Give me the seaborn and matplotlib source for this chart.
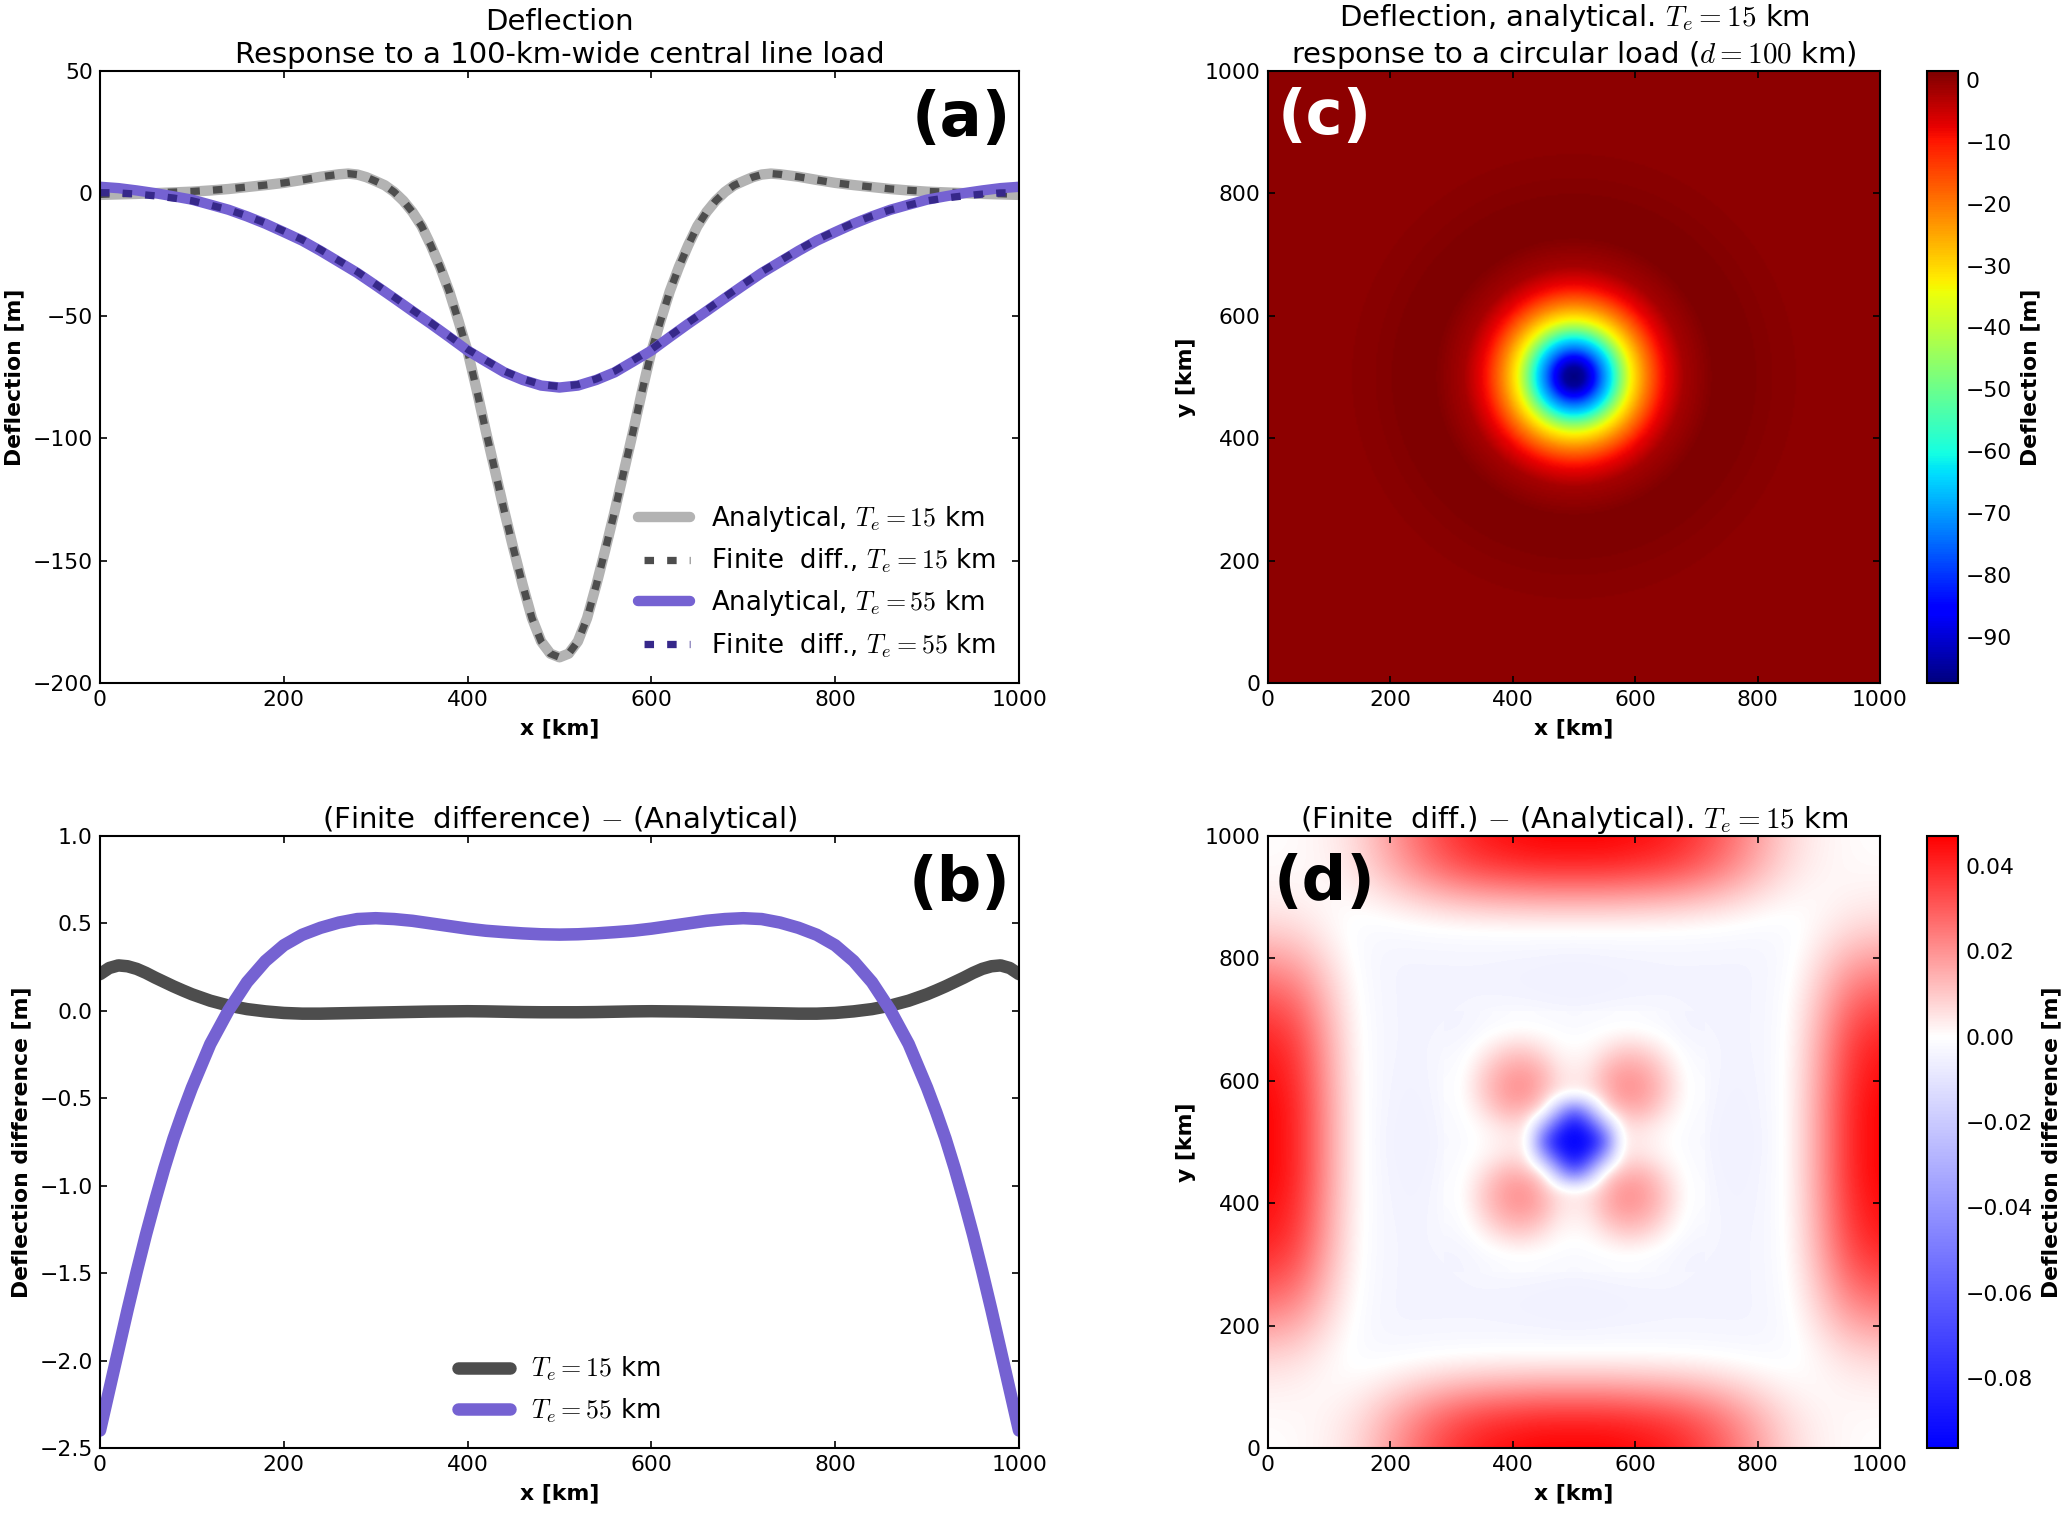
import numpy as np
import pandas as pd
import matplotlib
matplotlib.use("Agg")
import matplotlib.pyplot as plt
import seaborn as sns
from matplotlib.colors import TwoSlopeNorm

# ---------------- data ----------------
# panel a, Te = 15 km (finer sampling where the curve is steep)
x_15 = list(range(0, 261, 20)) + list(range(270, 731, 10)) + list(range(740, 1001, 20))
analytic_15 = [-0.6, -0.4, -0.2, 0.1, 0.4, 0.7, 1.2, 1.8, 2.6, 3.4, 4.3, 5.5, 6.8, 7.8,
               8.1, 7.7, 6.6, 5.0, 3.3, 0.6, -3.0, -7.6, -13.4, -21.2, -30.0, -40.0, -52.0,
               -64.5, -80.5, -97.4, -113.6, -129.9, -145.3, -160.0, -173.5, -183.0, -188.0,
               -189.5,
               -188.0, -183.0, -173.5, -160.0, -145.3, -129.9, -113.6, -97.4, -80.5, -64.5,
               -52.0, -40.0, -30.0, -21.2, -13.4, -7.6, -3.0, 0.6, 3.3, 5.0, 6.6, 7.7, 8.1,
               7.8, 6.8, 5.5, 4.3, 3.4, 2.6, 1.8, 1.2, 0.7, 0.4, 0.1, -0.2, -0.4, -0.6]
fd_15 = [-0.39, -0.14, 0.04, 0.29, 0.54, 0.8, 1.26, 1.83, 2.61, 3.4, 4.29, 5.48, 6.78, 7.79,
         8.09, 7.69, 6.59, 4.99, 3.29, 0.59, -3.01, -7.61, -13.4, -21.2, -30.0, -40.0, -52.0,
         -64.5, -80.5, -97.4, -113.6, -129.9, -145.3, -160.0, -173.5, -183.0, -188.0,
         -189.5,
         -188.0, -183.0, -173.5, -160.0, -145.3, -129.9, -113.6, -97.4, -80.5, -64.5,
         -52.0, -40.0, -30.0, -21.2, -13.4, -7.61, -3.01, 0.59, 3.29, 4.99, 6.59, 7.69, 8.09,
         7.79, 6.78, 5.48, 4.29, 3.4, 2.61, 1.83, 1.26, 0.8, 0.54, 0.29, 0.04, -0.14, -0.39]

# panel a, Te = 55 km
x_55 = list(range(0, 1001, 20))
analytic_55 = [2.7, 2.15, 1.2, 0.1, -1.2, -2.55, -4.6, -6.7, -9.4, -12.4, -15.8, -19.3, -23.5, -28.0,
               -32.5, -37.6, -42.8, -48.1, -53.3, -58.7, -64.2, -68.7, -73.1, -76.2, -78.5, -79.3,
               -78.5, -76.2, -73.1, -68.7, -64.2, -58.7, -53.3, -48.1, -42.8, -37.6, -32.5, -28.0,
               -23.5, -19.3, -15.8, -12.4, -9.4, -6.7, -4.6, -2.55, -1.2, 0.1, 1.2, 2.15, 2.7]
fd_55 = [0.3, 0.2, -0.3, -1.0, -1.9, -3.0, -4.8, -6.7, -9.2, -12.1, -15.4, -18.9, -23.0, -27.5,
         -32.0, -37.1, -42.3, -47.6, -52.8, -58.2, -63.7, -68.2, -72.6, -75.8, -78.1, -78.9,
         -78.1, -75.8, -72.6, -68.2, -63.7, -58.2, -52.8, -47.6, -42.3, -37.1, -32.0, -27.5,
         -23.0, -18.9, -15.4, -12.1, -9.2, -6.7, -4.8, -3.0, -1.9, -1.0, -0.3, 0.2, 0.3]

# panel b
x_b = list(range(0, 101, 10)) + list(range(120, 881, 20)) + list(range(900, 1001, 10))
diff_15 = [0.21, 0.245, 0.26, 0.255, 0.24, 0.217, 0.19, 0.165, 0.14, 0.117, 0.095,
           0.058, 0.03, 0.01, -0.003, -0.012, -0.016, -0.016, -0.014, -0.012, -0.010, -0.008,
           -0.006, -0.004, -0.003, -0.002, -0.003, -0.005, -0.007, -0.008, -0.008, -0.008,
           -0.007, -0.005, -0.003, -0.002, -0.003, -0.004, -0.006, -0.008, -0.010, -0.012,
           -0.014, -0.016, -0.016, -0.012, -0.003, 0.01, 0.03, 0.058,
           0.095, 0.117, 0.14, 0.165, 0.19, 0.217, 0.24, 0.255, 0.26, 0.245, 0.21]
diff_55 = [-2.40, -2.17, -1.94, -1.71, -1.49, -1.28, -1.085, -0.90, -0.73, -0.58, -0.44,
           -0.19, 0.004, 0.164, 0.285, 0.375, 0.435, 0.475, 0.505, 0.525, 0.53, 0.525, 0.515,
           0.50, 0.485, 0.47, 0.458, 0.45, 0.443, 0.438, 0.436, 0.438, 0.443, 0.45, 0.458,
           0.47, 0.485, 0.50, 0.515, 0.525, 0.53, 0.525, 0.505, 0.475, 0.435, 0.375, 0.285,
           0.164, 0.004, -0.19,
           -0.44, -0.58, -0.73, -0.90, -1.085, -1.28, -1.49, -1.71, -1.94, -2.17, -2.40]

# radial profile of the 2-D analytical deflection (panel c), km -> m
radial_r = [0, 15, 30, 45, 62, 76, 92, 117, 144, 180, 228, 260, 300, 340, 400, 500, 750]
radial_v = [-97.4, -95.0, -86.5, -74.0, -62.0, -48.0, -34.0, -21.3, -9.5, -2.0, 1.2, 1.4, 1.0,
            0.4, 0.0, -0.1, 0.0]
load_center = (500, 500)

# panel d: upper-left quadrant (rows y=1000..500, cols x=0..500, 50 km step), in mm
diff2d_quadrant_mm = [
    [0, 0.9, 2.8, 8, 17.9, 28.2, 36.7, 42.3, 45.1, 47, 47],
    [0.9, 1.1, 2.3, 6.4, 14.7, 23.5, 30.7, 35.5, 37.9, 39.5, 39.5],
    [2.8, 2.3, 0.7, 1.9, 5.6, 9.8, 13.2, 15.4, 16.5, 17.3, 17.3],
    [8, 6.4, 1.9, -2.0, -1.9, -1.3, -0.8, -0.5, -0.3, -0.2, -0.2],
    [17.9, 14.7, 5.7, -1.9, -4, -4, -4, -4, -4.2, -4.5, -5],
    [28.2, 23.5, 9.8, -1.3, -4, -4, -4, -4, -4.8, -5.5, -6],
    [36.7, 30.7, 13.2, -0.8, -4, -4, -4, -3, -1.5, -1.8, -2.5],
    [42.3, 35.5, 15.4, -0.5, -4, -4, -3, 2, 9, 5, 0.8],
    [45.1, 37.9, 16.5, -0.3, -4.2, -4.8, -1.5, 9, 19.5, 14, 4],
    [47, 39.5, 17.3, -0.2, -4.5, -5.5, -1.8, 5, 14, 4, -62],
    [47, 39.5, 17.3, -0.2, -5, -6, -2.5, 0.8, 4, -62, -96],
]
# panel d, finer central patch: upper-left quadrant (rows y=700..500, cols x=300..500, 25 km step), mm
diff2d_centre_mm = [
    [-4, -3.8, -3, -2, -1.5, -1.5, -1.8, -2.2, -2.5],
    [-3.8, -3.5, -1, 0.3, 1.5, 1.5, 0.5, -0.5, -1.2],
    [-3, -1, 2, 6, 9, 8.5, 5, 1.5, 0.8],
    [-2, 0.3, 6, 12, 15, 15, 11, 4.2, 2.8],
    [-1.5, 1.5, 9, 15, 19.5, 19, 14, 6.5, 4],
    [-1.5, 1.5, 8.5, 15, 19, 18.5, 11, 3, 1],
    [-1.8, 0.5, 5, 11, 14, 11, 4, -30, -62],
    [-2.2, -0.5, 1.5, 4.2, 6.5, 3, -30, -72, -95],
    [-2.5, -1.2, 0.8, 2.8, 4, 1, -62, -95, -96],
]

c_vmin, c_vmax = -97.4, 1.4
d_vmin, d_vmax = -0.0964, 0.047
c_ticks = [0, -10, -20, -30, -40, -50, -60, -70, -80, -90]
d_ticks = [0.04, 0.02, 0.0, -0.02, -0.04, -0.06, -0.08]

# ---------------- style ----------------
sns.set_theme(style="white", rc={
    "xtick.direction": "in", "ytick.direction": "in",
    "xtick.top": True, "ytick.right": True,
    "xtick.bottom": True, "ytick.left": True,
    "xtick.major.size": 3.5, "ytick.major.size": 3.5,
    "xtick.major.width": 0.8, "ytick.major.width": 0.8,
    "axes.edgecolor": "black", "axes.linewidth": 1.0,
    "xtick.color": "black", "ytick.color": "black",
    "text.color": "black", "axes.labelcolor": "black",
    "axes.grid": False,
})
plt.rcParams["font.family"] = ["DejaVu Sans"]
plt.rcParams["mathtext.fontset"] = "cm"

TICK = 10.5
LAB = 10.5
TIT = 14
LEG = 12.5

C_LGRAY = "#b3b3b3"
C_DGRAY = "#4d4d4d"
C_PURP = "#7562d2"
C_DPURP = "#36288a"

W, H = 2067, 1519
fig = plt.figure(figsize=(W / 150, H / 150), dpi=150)
fig.patch.set_facecolor("white")


def rect(l, t, w, h):
    return [l / W, 1 - (t + h) / H, w / W, h / H]


ax_a = fig.add_axes(rect(100, 71, 919, 612))
ax_b = fig.add_axes(rect(100, 836, 919, 612))
ax_c = fig.add_axes(rect(1268, 71, 612, 612))
cax_c = fig.add_axes(rect(1927, 71, 31, 612))
ax_d = fig.add_axes(rect(1268, 836, 612, 612))
cax_d = fig.add_axes(rect(1927, 836, 31, 612))

df15 = pd.DataFrame({"x": x_15, "analytic": analytic_15, "fd": fd_15})
df55 = pd.DataFrame({"x": x_55, "analytic": analytic_55, "fd": fd_55})
dfb = pd.DataFrame({"x": x_b, "d15": diff_15, "d55": diff_55})

DASH = (1.3, 1.8)

# ---------------- panel a ----------------
sns.lineplot(data=df15, x="x", y="analytic", ax=ax_a, color=C_LGRAY, lw=5,
             label=r"Analytical, $T_e=15$ km")
sns.lineplot(data=df15, x="x", y="fd", ax=ax_a, color=C_DGRAY, lw=3.5,
             label=r"Finite  diff., $T_e=15$ km")
ax_a.lines[-1].set_dashes(DASH)
sns.lineplot(data=df55, x="x", y="analytic", ax=ax_a, color=C_PURP, lw=5,
             label=r"Analytical, $T_e=55$ km")
sns.lineplot(data=df55, x="x", y="fd", ax=ax_a, color=C_DPURP, lw=3.5,
             label=r"Finite  diff., $T_e=55$ km")
ax_a.lines[-1].set_dashes(DASH)
ax_a.set_xlim(0, 1000)
ax_a.set_ylim(-200, 50)
ax_a.set_xticks([0, 200, 400, 600, 800, 1000])
ax_a.set_yticks([50, 0, -50, -100, -150, -200])
ax_a.set_xlabel("x [km]", fontweight="bold", fontsize=LAB)
ax_a.set_ylabel("Deflection [m]", fontweight="bold", fontsize=LAB)
ax_a.set_title("Deflection\nResponse to a 100-km-wide central line load", fontsize=TIT, pad=4)
leg_a = ax_a.legend(loc="lower right", frameon=False, fontsize=LEG, handlelength=2)
for h in leg_a.get_lines()[1::2]:
    h.set_linestyle((2.27, DASH))
ax_a.text(0.991, 0.893, "(a)", transform=ax_a.transAxes, ha="right", va="baseline",
          fontsize=30, fontweight="bold")

# ---------------- panel b ----------------
sns.lineplot(data=dfb, x="x", y="d15", ax=ax_b, color=C_DGRAY, lw=6, label=r"$T_e=15$ km")
sns.lineplot(data=dfb, x="x", y="d55", ax=ax_b, color=C_PURP, lw=6, label=r"$T_e=55$ km")
ax_b.set_xlim(0, 1000)
ax_b.set_ylim(-2.5, 1.0)
ax_b.set_xticks([0, 200, 400, 600, 800, 1000])
ax_b.set_yticks([1.0, 0.5, 0.0, -0.5, -1.0, -1.5, -2.0, -2.5])
ax_b.set_xlabel("x [km]", fontweight="bold", fontsize=LAB)
ax_b.set_ylabel("Deflection difference [m]", fontweight="bold", fontsize=LAB)
ax_b.set_title("(Finite  difference) $-$ (Analytical)", fontsize=TIT, pad=4)
ax_b.legend(loc="lower center", frameon=False, fontsize=LEG, handlelength=2)
ax_b.text(0.991, 0.893, "(b)", transform=ax_b.transAxes, ha="right", va="baseline",
          fontsize=30, fontweight="bold")

# ---------------- panel c ----------------
gx = np.linspace(0, 1000, 401)
GX, GY = np.meshgrid(gx, gx)
dist = np.hypot(GX - load_center[0], GY - load_center[1])
field_c = np.interp(dist, radial_r, radial_v)
im_c = ax_c.imshow(field_c, origin="lower", extent=(0, 1000, 0, 1000), cmap="jet",
                   vmin=c_vmin, vmax=c_vmax, interpolation="bilinear", aspect="auto")
ax_c.set_xlim(0, 1000)
ax_c.set_ylim(0, 1000)
ax_c.set_xticks([0, 200, 400, 600, 800, 1000])
ax_c.set_yticks([0, 200, 400, 600, 800, 1000])
ax_c.set_xlabel("x [km]", fontweight="bold", fontsize=LAB)
ax_c.set_ylabel("y [km]", fontweight="bold", fontsize=LAB)
ax_c.set_title("Deflection, analytical. $T_e=15$ km\nresponse to a circular load ($d=100$ km)",
               fontsize=TIT, pad=4)
ax_c.text(0.015, 0.897, "(c)", transform=ax_c.transAxes, ha="left", va="baseline",
          fontsize=30, fontweight="bold", color="white")
cb_c = fig.colorbar(im_c, cax=cax_c)
cb_c.set_ticks(c_ticks)
cb_c.set_label("Deflection [m]", fontweight="bold", fontsize=LAB)
cb_c.ax.tick_params(direction="in", length=3.5, labelsize=TICK)
cb_c.outline.set_linewidth(1.0)

# ---------------- panel d ----------------
def mirror_quadrant(q):
    q = np.asarray(q, dtype=float) * 1e-3
    top = np.hstack([q, q[:, -2::-1]])
    return np.vstack([top, top[-2::-1, :]])


field_d = mirror_quadrant(diff2d_quadrant_mm)
field_d_centre = mirror_quadrant(diff2d_centre_mm)
norm_d = TwoSlopeNorm(vmin=d_vmin, vcenter=0.0, vmax=d_vmax)
im_d = ax_d.imshow(field_d, origin="upper", extent=(-25, 1025, -25, 1025), cmap="bwr",
                   norm=norm_d, interpolation="bicubic", interpolation_stage="data",
                   aspect="auto")
ax_d.imshow(field_d_centre, origin="upper", extent=(287.5, 712.5, 287.5, 712.5), cmap="bwr",
            norm=norm_d, interpolation="bicubic", interpolation_stage="data", aspect="auto")
ax_d.set_xlim(0, 1000)
ax_d.set_ylim(0, 1000)
ax_d.set_xticks([0, 200, 400, 600, 800, 1000])
ax_d.set_yticks([0, 200, 400, 600, 800, 1000])
ax_d.set_xlabel("x [km]", fontweight="bold", fontsize=LAB)
ax_d.set_ylabel("y [km]", fontweight="bold", fontsize=LAB)
ax_d.set_title("(Finite  diff.) $-$ (Analytical). $T_e=15$ km", fontsize=TIT, pad=4)
ax_d.text(0.01, 0.896, "(d)", transform=ax_d.transAxes, ha="left", va="baseline",
          fontsize=30, fontweight="bold", color="black")
cb_d = fig.colorbar(im_d, cax=cax_d)
cb_d.ax.set_yscale("linear")
cb_d.set_ticks(d_ticks)
cb_d.set_label("Deflection difference [m]", fontweight="bold", fontsize=LAB)
cb_d.ax.tick_params(direction="in", length=3.5, labelsize=TICK)
cb_d.outline.set_linewidth(1.0)

for ax in (ax_a, ax_b, ax_c, ax_d):
    ax.tick_params(labelsize=TICK, direction="in", top=True, right=True, length=3.5)
    for s in ax.spines.values():
        s.set_visible(True)
        s.set_color("black")
        s.set_linewidth(1.0)

fig.savefig("out.png", dpi=150, facecolor="white")
